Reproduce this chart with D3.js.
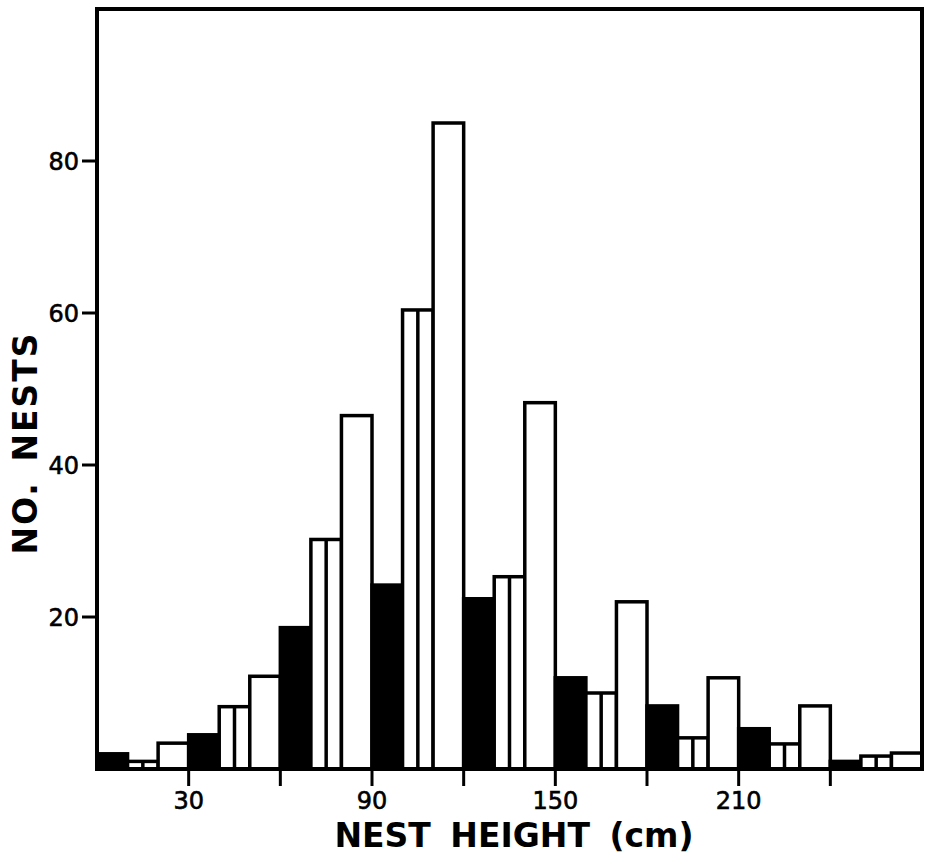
<!DOCTYPE html>
<html>
<head>
<meta charset="utf-8">
<script src="https://cdn.jsdelivr.net/npm/d3@7"></script>
<style>
  body { margin: 0; background: #fff; }
  svg { display: block; }
  text { font-family: "DejaVu Sans", sans-serif; fill: #000; }
</style>
</head>
<body>
<svg id="chart" width="925" height="854"></svg>
<script>
// nest height bins (cm), 10 cm wide
const binStarts = [0, 10, 20, 30, 40, 50, 60, 70, 80, 90, 100, 110, 120, 130, 140,
  150, 160, 170, 180, 190, 200, 210, 220, 230, 240, 250, 260];
// number of nests per bin
const nestCounts = [2, 1, 3.4, 4.5, 8.2, 12.2, 18.6, 30.2, 46.5, 24.2, 60.4, 85, 22.4, 25.3, 48.2,
  12, 10, 22, 8.3, 4.1, 12, 5.3, 3.3, 8.3, 1, 1.7, 2.1];
// bar style repeats: solid, split, open
const barKinds = ['solid', 'split', 'open'];
const xTicks = [30, 60, 90, 120, 150, 180, 210, 240];
const xLabels = [30, 90, 150, 210];
const yTicks = [20, 40, 60, 80];

const svg = d3.select('#chart');
const mLeft = 97, mRight = 922, mTop = 9, mBottom = 769;

const x = d3.scaleLinear().domain([0, 270]).range([mLeft, mRight]);
const y = d3.scaleLinear().domain([0, 100]).range([mBottom, mTop]);

const bars = binStarts.map((s, i) => ({start: s, val: nestCounts[i], kind: barKinds[i % 3]}));

let g = svg.append('g');

g.selectAll('rect.bar')
  .data(bars)
  .enter().append('rect')
  .attr('class', 'bar')
  .attr('x', d => x(d.start))
  .attr('y', d => y(d.val))
  .attr('width', d => x(d.start + 10) - x(d.start))
  .attr('height', d => y(0) - y(d.val))
  .style('fill', d => d.kind === 'solid' ? '#000' : '#fff')
  .style('stroke', '#000')
  .style('stroke-width', 3.5);

// middle divider of the split bars
g.selectAll('line.split')
  .data(bars.filter(d => d.kind === 'split'))
  .enter().append('line')
  .attr('class', 'split')
  .attr('x1', d => x(d.start + 5))
  .attr('x2', d => x(d.start + 5))
  .attr('y1', d => y(d.val))
  .attr('y2', y(0))
  .style('stroke', '#000')
  .style('stroke-width', 3.5);

// frame
svg.append('rect')
  .attr('x', mLeft).attr('y', mTop)
  .attr('width', mRight - mLeft).attr('height', mBottom - mTop)
  .style('fill', 'none')
  .style('stroke', '#000')
  .style('stroke-width', 4);

// x axis ticks (below the baseline)
svg.selectAll('line.xtick')
  .data(xTicks)
  .enter().append('line')
  .attr('x1', d => x(d)).attr('x2', d => x(d))
  .attr('y1', mBottom).attr('y2', mBottom + 17)
  .style('stroke', '#000')
  .style('stroke-width', 3);

svg.selectAll('text.xlab')
  .data(xLabels)
  .enter().append('text')
  .attr('x', d => x(d))
  .attr('y', 809)
  .attr('text-anchor', 'middle')
  .style('font-size', '24px')
  .style('stroke', '#000')
  .style('stroke-width', 0.6)
  .text(d => d);

// y axis ticks (left of frame)
svg.selectAll('line.ytick')
  .data(yTicks)
  .enter().append('line')
  .attr('x1', mLeft - 15).attr('x2', mLeft)
  .attr('y1', d => y(d)).attr('y2', d => y(d))
  .style('stroke', '#000')
  .style('stroke-width', 3);

svg.selectAll('text.ylab')
  .data(yTicks)
  .enter().append('text')
  .attr('x', mLeft - 18)
  .attr('y', d => y(d))
  .attr('dy', '.36em')
  .attr('text-anchor', 'end')
  .style('font-size', '24px')
  .style('stroke', '#000')
  .style('stroke-width', 0.6)
  .text(d => d);

// axis titles
svg.append('text')
  .attr('x', 514)
  .attr('y', 847)
  .attr('text-anchor', 'middle')
  .style('font-size', '33px')
  .style('font-weight', 'bold')
  .style('word-spacing', '8px')
  .text('NEST HEIGHT (cm)');

svg.append('text')
  .attr('transform', 'translate(37,443) rotate(-90)')
  .attr('text-anchor', 'middle')
  .style('font-size', '33px')
  .style('font-weight', 'bold')
  .style('letter-spacing', '2px')
  .style('word-spacing', '6px')
  .text('NO. NESTS');
</script>
</body>
</html>
